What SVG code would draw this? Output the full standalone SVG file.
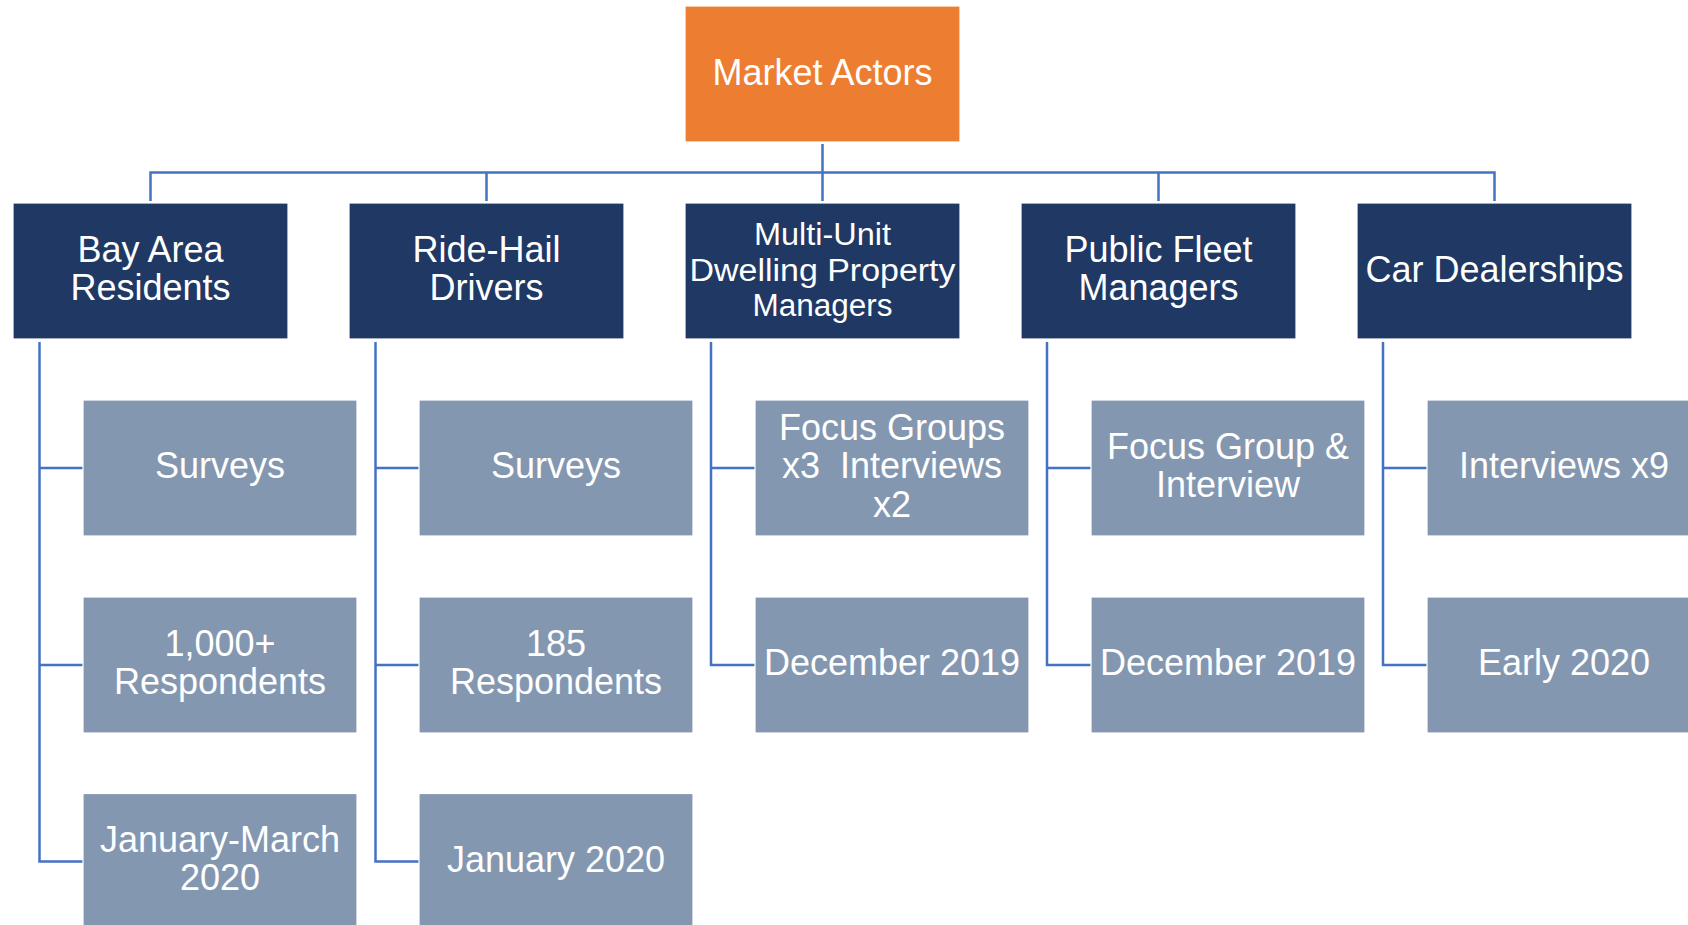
<svg xmlns="http://www.w3.org/2000/svg" width="1688" height="925" viewBox="0 0 1688 925">
<style>
.root{fill:#ED7D31;stroke:#fff;stroke-width:1.2}
.l1{fill:#203864;stroke:#fff;stroke-width:1.2}
.l2{fill:#8497B0;stroke:#fff;stroke-width:1.2}
.t{font-family:"Liberation Sans",Arial,sans-serif;font-size:36px;fill:#fff;text-anchor:middle}
.t34{font-size:31px}
.c{fill:none;stroke:#4472C4;stroke-width:2.5}
</style>
<rect width="1688" height="925" fill="#fff"/>
<g id="connectors">
<path class="c" d="M822.5,144V201M150.5,201V172.5H1494.5V201M486.5,172.5V201M1158.5,172.5V201"/>
<path class="c" d="M39.5,342V861.5H83M39.5,468H83M39.5,665H83"/>
<path class="c" d="M375.5,342V861.5H419M375.5,468H419M375.5,665H419"/>
<path class="c" d="M711,342V665H755M711,468H755"/>
<path class="c" d="M1047,342V665H1091M1047,468H1091"/>
<path class="c" d="M1383,342V665H1427M1383,468H1427"/>
</g>
<g id="market-actors"><rect class="root" x="685" y="6" width="275" height="136"/><text class="t" x="822.5" y="85">Market Actors</text></g>
<g id="bay-area-residents"><rect class="l1" x="13" y="203" width="275" height="136"/><text class="t" x="150.5" y="262">Bay Area</text><text class="t" x="150.5" y="300">Residents</text></g>
<g id="ride-hail-drivers"><rect class="l1" x="349" y="203" width="275" height="136"/><text class="t" x="486.5" y="262">Ride-Hail</text><text class="t" x="486.5" y="300">Drivers</text></g>
<g id="mud-property-managers"><rect class="l1" x="685" y="203" width="275" height="136"/><text class="t t34" x="822.5" y="245" textLength="137" lengthAdjust="spacingAndGlyphs">Multi-Unit</text><text class="t t34" x="822.5" y="280.5" textLength="266" lengthAdjust="spacingAndGlyphs">Dwelling Property</text><text class="t t34" x="822.5" y="316" textLength="140" lengthAdjust="spacingAndGlyphs">Managers</text></g>
<g id="public-fleet-managers"><rect class="l1" x="1021" y="203" width="275" height="136"/><text class="t" x="1158.5" y="262">Public Fleet</text><text class="t" x="1158.5" y="300">Managers</text></g>
<g id="car-dealerships"><rect class="l1" x="1357" y="203" width="275" height="136"/><text class="t" x="1494.5" y="282">Car Dealerships</text></g>
<g id="bay-surveys"><rect class="l2" x="83" y="400" width="274" height="136"/><text class="t" x="220" y="478">Surveys</text></g>
<g id="bay-respondents"><rect class="l2" x="83" y="597" width="274" height="136"/><text class="t" x="220" y="656">1,000+</text><text class="t" x="220" y="694">Respondents</text></g>
<g id="bay-date"><rect class="l2" x="83" y="793.5" width="274" height="136"/><text class="t" x="220" y="852">January-March</text><text class="t" x="220" y="890">2020</text></g>
<g id="rh-surveys"><rect class="l2" x="419" y="400" width="274" height="136"/><text class="t" x="556" y="478">Surveys</text></g>
<g id="rh-respondents"><rect class="l2" x="419" y="597" width="274" height="136"/><text class="t" x="556" y="656">185</text><text class="t" x="556" y="694">Respondents</text></g>
<g id="rh-date"><rect class="l2" x="419" y="793.5" width="274" height="136"/><text class="t" x="556" y="872">January 2020</text></g>
<g id="mud-method"><rect class="l2" x="755" y="400" width="274" height="136"/><text class="t" x="892" y="440">Focus Groups</text><text class="t" x="892" y="478">x3&#160; Interviews</text><text class="t" x="892" y="517">x2</text></g>
<g id="mud-date"><rect class="l2" x="755" y="597" width="274" height="136"/><text class="t" x="892" y="675">December 2019</text></g>
<g id="pf-method"><rect class="l2" x="1091" y="400" width="274" height="136"/><text class="t" x="1228" y="459">Focus Group &amp;</text><text class="t" x="1228" y="497">Interview</text></g>
<g id="pf-date"><rect class="l2" x="1091" y="597" width="274" height="136"/><text class="t" x="1228" y="675">December 2019</text></g>
<g id="cd-method"><rect class="l2" x="1427" y="400" width="274" height="136"/><text class="t" x="1564" y="478">Interviews x9</text></g>
<g id="cd-date"><rect class="l2" x="1427" y="597" width="274" height="136"/><text class="t" x="1564" y="675">Early 2020</text></g>
</svg>
